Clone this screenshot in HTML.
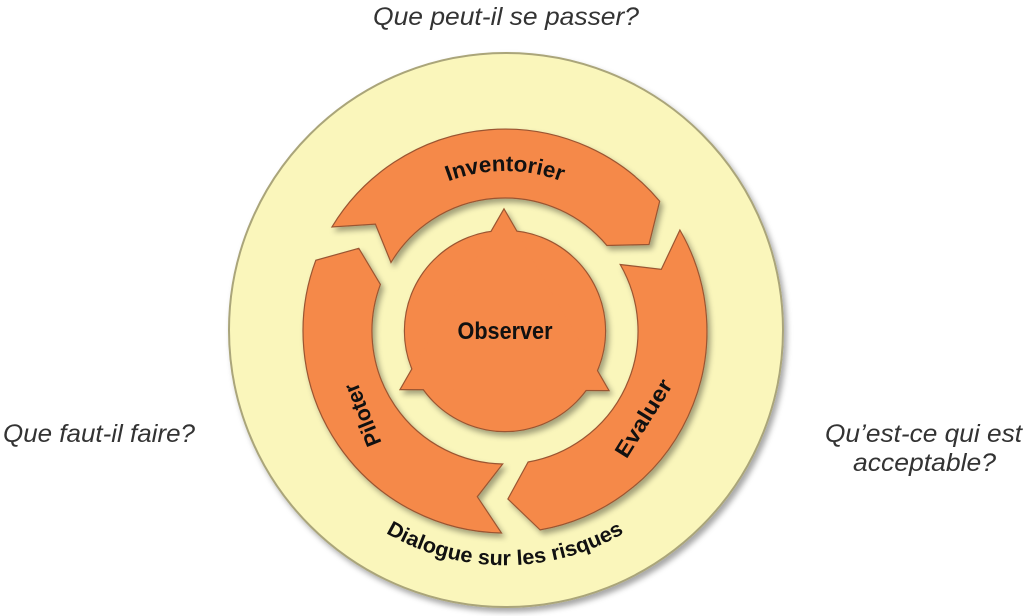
<!DOCTYPE html>
<html><head><meta charset="utf-8">
<style>
html,body{margin:0;padding:0;background:#fff;}
body{width:1024px;height:616px;overflow:hidden;position:relative;font-family:"Liberation Sans",sans-serif;}
</style></head><body>
<svg id="s" width="1024" height="616" style="position:absolute;left:0;top:0">
<defs>
<filter id="sh" x="-20%" y="-20%" width="140%" height="140%"><feDropShadow dx="3" dy="4" stdDeviation="3" flood-color="#000" flood-opacity="0.35"/></filter>
<path id="tinv" d="M 345 331 A 160 160 0 0 1 665 331" fill="none"/>
<path id="tdia" d="M 338 496 A 236 236 0 0 0 672 496" fill="none"/>
</defs>
<g font-family="'Liberation Sans',sans-serif" font-style="italic" font-size="25" fill="#333">
<text x="373" y="25" textLength="266" lengthAdjust="spacingAndGlyphs">Que peut-il se passer?</text>
<text x="3" y="442" textLength="192" lengthAdjust="spacingAndGlyphs">Que faut-il faire?</text>
<text x="825" y="442" textLength="197" lengthAdjust="spacingAndGlyphs">Qu’est-ce qui est</text>
<text x="853" y="471" textLength="143" lengthAdjust="spacingAndGlyphs">acceptable?</text>
</g>
<circle cx="506" cy="330" r="277" fill="#faf6bb" stroke="#aaa57a" stroke-width="2" filter="url(#sh)"/>
<g id="arcs" fill="#f5894a" stroke="#9a5530" stroke-width="1.2" filter="url(#sh)"></g>
<g filter="url(#sh)">
<circle cx="505" cy="331" r="100" fill="none" stroke="#9a5530" stroke-width="2.4"/>
<polygon points="504,210 401,389 608,390" fill="none" stroke="#9a5530" stroke-width="2.4"/>
<circle cx="505" cy="331" r="100" fill="#f5894a"/>
<polygon points="504,210 401,389 608,390" fill="#f5894a"/>
</g>
<g font-family="'Liberation Sans',sans-serif" font-weight="bold" fill="#111">
<text font-size="22" text-anchor="middle"><textPath href="#tinv" startOffset="50%" textLength="116" lengthAdjust="spacingAndGlyphs">Inventorier</textPath></text>
<text x="505" y="339" font-size="24" text-anchor="middle" textLength="95" lengthAdjust="spacingAndGlyphs">Observer</text>
<text x="0" y="8" font-size="22" text-anchor="middle" textLength="66" lengthAdjust="spacingAndGlyphs" transform="translate(362,415) rotate(-112)">Piloter</text>
<text x="0" y="8" font-size="22" text-anchor="middle" textLength="88" lengthAdjust="spacingAndGlyphs" transform="translate(643,418) rotate(-58)">Evaluer</text>
<text font-size="21" text-anchor="middle"><textPath href="#tdia" startOffset="50%" textLength="250" lengthAdjust="spacingAndGlyphs">Dialogue sur les risques</textPath></text>
</g>
</svg>
<script>
(function(){
var cx=505,cy=331,ro=202,ri=133,rm=168;
function p(a,r){var t=a*Math.PI/180;return (cx+r*Math.cos(t)).toFixed(1)+" "+(cy+r*Math.sin(t)).toFixed(1);}
function seg(a0,a1){
 return "M "+p(a0,ro)+" A "+ro+" "+ro+" 0 0 1 "+p(a1,ro)+
 " L "+p(a1+9,rm)+" L "+p(a1,ri)+
 " A "+ri+" "+ri+" 0 0 0 "+p(a0,ri)+
 " L "+p(a0+8.5,rm)+" Z";
}
var g=document.getElementById("arcs");
[[211,320],[330,440],[91,200.5]].forEach(function(s){
 var e=document.createElementNS("http://www.w3.org/2000/svg","path");
 e.setAttribute("d",seg(s[0],s[1]));g.appendChild(e);
});
})();
</script>
</body></html>
